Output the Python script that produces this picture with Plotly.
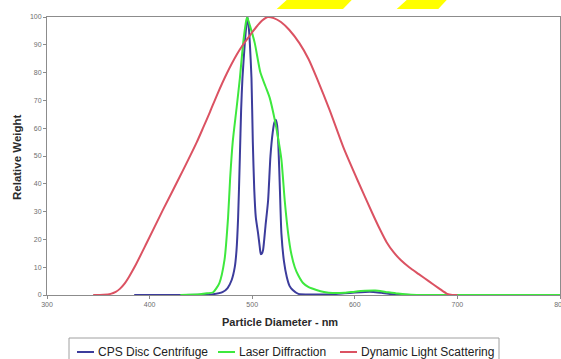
import plotly.graph_objects as go

# ---- data ----
cps_x = [385, 420, 450, 462, 471, 476, 480, 483, 484.7, 486.3, 488, 489.2, 490.5, 492.8, 494.3, 495.4,
         496.5, 497.7, 499.3, 500.6, 502, 503.5, 505.8, 507.3, 508.4, 509.5, 510.6, 513, 515.5, 517.8,
         520, 521.6, 523, 524.3, 525.5, 527, 528.5, 531, 533.7, 536.5, 539.5, 545, 560, 575, 590, 600,
         610, 618, 626, 635, 648, 665, 700, 750, 800]
cps_y = [0, 0, 0.1, 0.3, 1, 2.5, 5.4, 10, 16, 28, 50, 66.5, 78, 90.6, 97, 100,
         97, 90.6, 78, 55, 38, 28, 22, 17.5, 14.7, 15, 16.2, 25, 34, 50,
         58.5, 62, 63, 61, 54, 38, 22, 12, 6.5, 3.2, 1.8, 0.4, 0.2, 0.2, 0.6, 0.9,
         1.1, 1.1, 0.8, 0.4, 0.1, 0, 0, 0, 0]

ld_x = [430, 449, 456, 462, 468, 473, 476.5, 478.5, 481, 484.7, 488, 491, 493.4, 495,
        497.7, 502.5, 508, 513, 517, 522, 525, 528.5, 531.7, 535, 538, 541.5, 545, 549.6, 555,
        562.6, 570, 578.5, 590, 600, 610, 620, 630, 642, 655, 670, 700, 750, 800]
ld_y = [0, 0.3, 0.6, 1, 4.3, 12.6, 28, 42, 55, 67, 78, 90, 97, 100,
        97, 90.6, 80, 75, 71, 63, 57, 48.6, 34, 22.3, 15, 10, 7, 4.3, 2.8,
        1.8, 1.1, 0.7, 0.8, 1.2, 1.5, 1.6, 1.1, 0.5, 0.1, 0, 0, 0, 0]

dls_x = [345, 355, 362, 367, 371, 375, 380, 386, 397, 413, 429.5, 446, 452, 459, 466, 475,
         485, 491, 498, 504, 510, 515, 521, 528, 536, 546, 555, 563, 575.5, 589, 603,
         617, 624, 631, 638, 645, 653, 662, 672, 682, 690, 695, 700]
dls_y = [0, 0.1, 0.4, 1.1, 2.2, 3.8, 6.6, 10.5, 18.6, 30.6, 42.6, 55, 60, 66, 72.2, 79.5,
         86.5, 90, 93.5, 96.4, 98.8, 100, 99.6, 98.2, 95.4, 90.6, 84.8, 78, 66.5, 53, 41,
         29.5, 24, 19, 15.3, 12.5, 10, 7.6, 5, 2.4, 0.4, 0, 0]

series_names = ["CPS Disc Centrifuge", "Laser Diffraction", "Dynamic Light Scattering"]
series_colors = ["#3c3c9c", "#3ee83e", "#db5262"]

x_ticks = [300, 400, 500, 600, 700, 800]
y_ticks = [0, 10, 20, 30, 40, 50, 60, 70, 80, 90, 100]

# ---- figure ----
W, H = 561, 359
ML, MR, MT, MB = 47, 1, 17, 64
FONT = "Liberation Sans, Arial, sans-serif"

fig = go.Figure()
for xs, ys, name, col in zip([cps_x, ld_x, dls_x], [cps_y, ld_y, dls_y], series_names, series_colors):
    fig.add_trace(go.Scatter(x=xs, y=ys, mode="lines", name=name, showlegend=False,
                             line=dict(color=col, width=2, shape="spline", smoothing=0.6)))

pw = W - ML - MR
ph = H - MT - MB


def px_x(p):
    return (p - ML) / pw


def px_y(p):
    return (H - MB - p) / ph


# decorative yellow stripes at the very top of the picture
stripes = [
    [(276.7, 9), (286.7, 0), (351.7, 0), (343, 9)],
    [(396.7, 9), (406.7, 0), (446.7, 0), (438.3, 9)],
]
for pts in stripes:
    path = "M " + " L ".join(f"{px_x(a):.5f},{px_y(b):.5f}" for a, b in pts) + " Z"
    fig.add_shape(type="path", path=path, xref="paper", yref="paper",
                  fillcolor="#ffff00", line=dict(width=0), layer="above")

# legend box drawn in paper space (clipped at the bottom like the reference)
fig.add_shape(type="rect", xref="paper", yref="paper",
              x0=px_x(69), x1=px_x(499), y0=px_y(366), y1=px_y(338),
              line=dict(color="#a0a0a0", width=1), fillcolor="white")
legend_items = [(77, 94, 96), (218, 235, 237), (340, 357, 359)]
for (l0, l1, tx), name, col in zip(legend_items, series_names, series_colors):
    fig.add_shape(type="line", xref="paper", yref="paper",
                  x0=px_x(l0), x1=px_x(l1), y0=px_y(352), y1=px_y(352),
                  line=dict(color=col, width=2))
    fig.add_annotation(text=name, xref="paper", yref="paper", x=px_x(tx), y=px_y(352),
                       xanchor="left", yanchor="middle", showarrow=False,
                       font=dict(family=FONT, size=12, color="#222222"))

axis_common = dict(showgrid=False, zeroline=False, showline=True, linecolor="#8c8c8c",
                   linewidth=1, ticks="outside", ticklen=3, tickcolor="#8c8c8c",
                   tickfont=dict(family=FONT, size=7, color="#6e6e6e"),
                   mirror=True, automargin=False, ticklabeloverflow="allow")

fig.update_xaxes(range=[300, 800], tickvals=x_ticks, ticktext=[str(t) for t in x_ticks], **axis_common)
fig.update_yaxes(range=[0, 100], tickvals=y_ticks, ticktext=[str(t) for t in y_ticks], **axis_common)

fig.add_annotation(text="<b>Particle Diameter - nm</b>", xref="paper", yref="paper",
                   x=px_x(280), y=px_y(322), xanchor="center", yanchor="middle", showarrow=False,
                   font=dict(family=FONT, size=11, color="#2a2a2a"))
fig.add_annotation(text="<b>Relative Weight</b>", xref="paper", yref="paper",
                   x=px_x(17), y=px_y(157), xanchor="center", yanchor="middle", showarrow=False,
                   textangle=-90,
                   font=dict(family=FONT, size=11.5, color="#2a2a2a"))

fig.update_layout(
    width=W, height=H,
    margin=dict(l=ML, r=MR, t=MT, b=MB),
    paper_bgcolor="white", plot_bgcolor="white",
    showlegend=False,
)

# remove the browser's default 8px page margin so the figure sits at the window origin
fig.write_html("out.html", config={"displayModeBar": False},
               post_script="document.body.style.margin='0';document.body.style.overflow='hidden';")
